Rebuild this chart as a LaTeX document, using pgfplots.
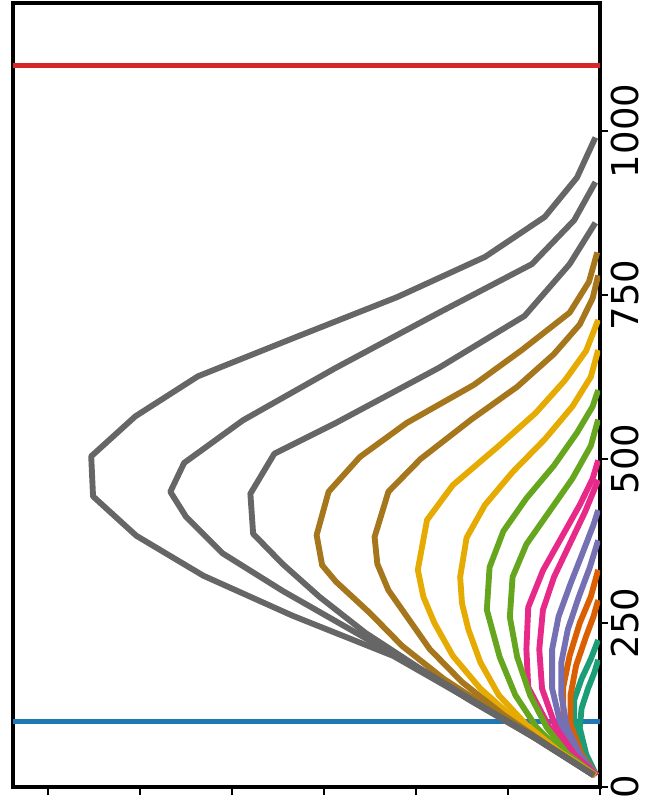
\documentclass[border=0pt]{standalone}
\usepackage{pgfplots}
\pgfplotsset{compat=1.18}
\usepackage{fontspec}
\setmainfont{DejaVu Sans}
\definecolor{dA}{HTML}{1B9E77}
\definecolor{dB}{HTML}{D95F02}
\definecolor{dC}{HTML}{7570B3}
\definecolor{dD}{HTML}{E7298A}
\definecolor{dE}{HTML}{66A61E}
\definecolor{dF}{HTML}{E6AB02}
\definecolor{dG}{HTML}{A6761D}
\definecolor{dH}{HTML}{666666}
\definecolor{tred}{HTML}{D62728}
\definecolor{tblue}{HTML}{1F77B4}
\begin{document}
\begin{tikzpicture}
\begin{axis}[name=ax, scale only axis, width=440.25pt, height=588pt,
  x dir=reverse, xmin=0, xmax=6.38, ymin=0, ymax=1195,
  xtick={0,1,2,3,4,5,6}, xticklabels={},
  ytick={0,250,500,750,1000}, yticklabels={0,250,500,750,1000},
  xtick pos=left, ytick pos=right, yticklabel pos=right,
  tick align=outside, major tick length=6pt,
  tick style={line width=2pt, black},
  axis line style={line width=3pt, black},
  yticklabel shift=2.25pt,
  yticklabel style={font=\fontsize{27.75}{33}\selectfont, rotate=90, anchor=north, inner sep=0pt},
  every axis plot/.append style={line width=4.4pt, line join=round},
  clip=true]
\addplot[tblue, line width=3.8pt] coordinates {(0,100) (6.38,100)};
\addplot[tred, line width=3.8pt] coordinates {(0,1100) (6.38,1100)};
% curve 1 (teal)
\addplot[dA] table[row sep=\\, x=h, y=v] {v h \\ 18 0.04 \\ 50 0.15 \\ 90 0.22 \\ 120 0.2 \\ 150 0.13 \\ 175 0.06 \\ 194 0.02 \\};
% curve 2 (teal)
\addplot[dA] table[row sep=\\, x=h, y=v] {v h \\ 18 0.04 \\ 50 0.18 \\ 95 0.28 \\ 133 0.28 \\ 165 0.2 \\ 195 0.1 \\ 224 0.02 \\};
% curve 3 (orange)
\addplot[dB] table[row sep=\\, x=h, y=v] {v h \\ 18 0.04 \\ 50 0.2 \\ 95 0.32 \\ 140 0.32 \\ 185 0.26 \\ 230 0.15 \\ 260 0.07 \\ 285 0.02 \\};
% curve 4 (orange)
\addplot[dB] table[row sep=\\, x=h, y=v] {v h \\ 18 0.04 \\ 50 0.22 \\ 100 0.4 \\ 152 0.4 \\ 200 0.33 \\ 250 0.22 \\ 290 0.1 \\ 331 0.02 \\};
% curve 5 (purple)
\addplot[dC] table[row sep=\\, x=h, y=v] {v h \\ 18 0.04 \\ 50 0.22 \\ 91 0.36 \\ 140 0.42 \\ 190 0.42 \\ 240 0.35 \\ 290 0.23 \\ 335 0.11 \\ 376 0.02 \\};
% curve 6 (purple)
\addplot[dC] table[row sep=\\, x=h, y=v] {v h \\ 18 0.04 \\ 50 0.25 \\ 91 0.42 \\ 150 0.52 \\ 210 0.52 \\ 260 0.45 \\ 310 0.32 \\ 360 0.18 \\ 400 0.07 \\ 422 0.02 \\};
% curve 7 (pink)
\addplot[dD] table[row sep=\\, x=h, y=v] {v h \\ 18 0.04 \\ 50 0.28 \\ 91 0.48 \\ 150 0.63 \\ 210 0.66 \\ 270 0.62 \\ 320 0.5 \\ 370 0.33 \\ 420 0.16 \\ 468 0.02 \\};
% curve 8 (pink)
\addplot[dD] table[row sep=\\, x=h, y=v] {v h \\ 18 0.04 \\ 50 0.3 \\ 91 0.55 \\ 152 0.78 \\ 210 0.8 \\ 274 0.78 \\ 330 0.62 \\ 380 0.42 \\ 430 0.22 \\ 470 0.08 \\ 498 0.02 \\};
% curve 9 (green)
\addplot[dE] table[row sep=\\, x=h, y=v] {v h \\ 18 0.05 \\ 50 0.35 \\ 91 0.58 \\ 140 0.76 \\ 198 0.9 \\ 259 0.98 \\ 320 0.95 \\ 370 0.8 \\ 420 0.55 \\ 470 0.3 \\ 520 0.1 \\ 560 0.02 \\};
% curve 10 (green)
\addplot[dE] table[row sep=\\, x=h, y=v] {v h \\ 18 0.05 \\ 50 0.4 \\ 91 0.69 \\ 140 0.92 \\ 198 1.09 \\ 270 1.23 \\ 335 1.2 \\ 390 1.05 \\ 440 0.8 \\ 490 0.5 \\ 540 0.25 \\ 580 0.08 \\ 605 0.02 \\};
% curve 11 (yellow)
\addplot[dF] table[row sep=\\, x=h, y=v] {v h \\ 18 0.05 \\ 55 0.45 \\ 95 0.8 \\ 140 1.1 \\ 190 1.3 \\ 240 1.43 \\ 280 1.5 \\ 320 1.52 \\ 380 1.45 \\ 430 1.25 \\ 480 0.95 \\ 530 0.6 \\ 580 0.3 \\ 625 0.1 \\ 666 0.02 \\};
% curve 12 (yellow)
\addplot[dF] table[row sep=\\, x=h, y=v] {v h \\ 18 0.05 \\ 58 0.5 \\ 100 0.9 \\ 150 1.3 \\ 200 1.6 \\ 250 1.8 \\ 290 1.92 \\ 331 1.98 \\ 407 1.88 \\ 460 1.6 \\ 520 1.1 \\ 570 0.7 \\ 620 0.38 \\ 665 0.15 \\ 712 0.02 \\};
% curve 13 (brown)
\addplot[dG] table[row sep=\\, x=h, y=v] {v h \\ 18 0.06 \\ 62 0.55 \\ 110 1.05 \\ 160 1.5 \\ 210 1.85 \\ 260 2.1 \\ 300 2.3 \\ 340 2.42 \\ 381 2.45 \\ 450 2.3 \\ 500 1.95 \\ 560 1.4 \\ 610 0.9 \\ 660 0.5 \\ 705 0.22 \\ 745 0.08 \\ 780 0.02 \\};
% curve 14 (brown)
\addplot[dG] table[row sep=\\, x=h, y=v] {v h \\ 18 0.06 \\ 65 0.6 \\ 115 1.15 \\ 165 1.7 \\ 215 2.15 \\ 265 2.5 \\ 313 2.87 \\ 338 3.02 \\ 384 3.08 \\ 450 2.95 \\ 503 2.61 \\ 555 2.1 \\ 613 1.37 \\ 666 0.85 \\ 723 0.33 \\ 770 0.12 \\ 815 0.03 \\};
% curve 15 (gray)
\addplot[dH] table[row sep=\\, x=h, y=v] {v h \\ 18 0.07 \\ 70 0.65 \\ 125 1.3 \\ 180 1.95 \\ 235 2.55 \\ 290 3.05 \\ 340 3.45 \\ 386 3.77 \\ 447 3.8 \\ 508 3.54 \\ 555 2.87 \\ 639 1.75 \\ 718 0.82 \\ 797 0.33 \\ 860 0.05 \\};
% curve 16 (gray)
\addplot[dH] table[row sep=\\, x=h, y=v] {v h \\ 18 0.07 \\ 74 0.7 \\ 131 1.4 \\ 187 2.05 \\ 243 2.75 \\ 299 3.45 \\ 356 4.1 \\ 412 4.5 \\ 450 4.67 \\ 494 4.52 \\ 559 3.88 \\ 639 2.87 \\ 723 1.75 \\ 797 0.74 \\ 864 0.28 \\ 922 0.05 \\};
% curve 17 (gray)
\addplot[dH] table[row sep=\\, x=h, y=v] {v h \\ 18 0.07 \\ 79 0.74 \\ 140 1.5 \\ 200 2.25 \\ 261 3.34 \\ 322 4.31 \\ 383 5.04 \\ 443 5.51 \\ 504 5.53 \\ 565 5.05 \\ 626 4.37 \\ 686 3.3 \\ 747 2.2 \\ 808 1.25 \\ 869 0.6 \\ 929 0.25 \\ 990 0.05 \\};
\end{axis}
\pgfresetboundingbox
\path[use as bounding box] ([xshift=-9.75pt, yshift=-6.75pt]ax.south west) rectangle ([xshift=35.25pt, yshift=2.25pt]ax.north east);
\end{tikzpicture}
\end{document}
